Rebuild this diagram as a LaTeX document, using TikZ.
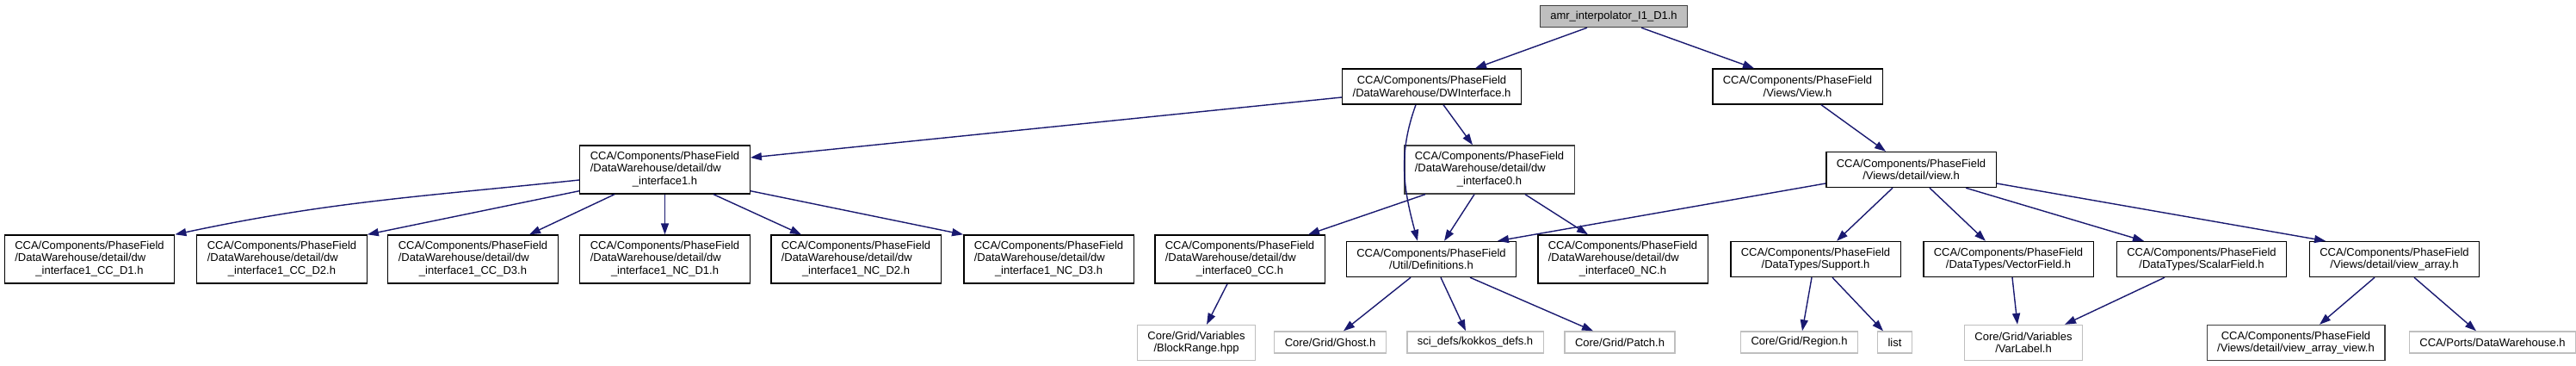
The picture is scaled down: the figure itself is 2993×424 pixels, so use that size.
\documentclass[tikz,border=0pt]{standalone}
\usepackage{fontspec}
\setmainfont{Liberation Sans}
\usetikzlibrary{arrows.meta,positioning}
\definecolor{edgeblue}{HTML}{191970}
\definecolor{extgray}{HTML}{BFBFBF}
\definecolor{topgray}{HTML}{BFBFBF}
\newcommand{\dwfile}[1]{\begin{tabular}{@{}l@{}}CCA/Components/PhaseField\\/DataWarehouse/detail/dw\\\multicolumn{1}{@{}c@{}}{#1}\end{tabular}}

\begin{document}
\begin{tikzpicture}[x=1pt,y=-1pt,font=\fontsize{13}{14.5}\selectfont,
    file/.style={draw=black,fill=white,line width=1.4pt,inner xsep=12pt,inner ysep=0pt,align=center},
    ext/.style={file,draw=extgray},
    lines1/.style={minimum height=25pt},
    lines2/.style={minimum height=41pt},
    lines3/.style={minimum height=56pt},
    dep/.style={-{Triangle[length=13pt,width=9pt]},draw=edgeblue,line width=1.4pt}]
    \useasboundingbox (0,0) rectangle (2993,424);
    % top levels
    \node [file,lines1,fill=topgray,draw=black!75] (amr) at (1875,19) {amr\_interpolator\_I1\_D1.h};
    \node [file,lines2] (dwi) at (1663.5,100.5) {CCA/Components/PhaseField\\/DataWarehouse/DWInterface.h};
    \node [file,lines2] (viewh) at (2088.5,100.5) {CCA/Components/PhaseField\\/Views/View.h};
    \node [file,lines3] (dw1) at (772.5,197) {\dwfile{\_interface1.h}};
    \node [file,lines3,draw=black!75] (dw0) at (1730.5,197) {\dwfile{\_interface0.h}};
    \node [file,lines2] (detview) at (2220.5,197) {CCA/Components/PhaseField\\/Views/detail/view.h};
    % third row
    \node [file,lines3] (ccd1) at (104,301) {\dwfile{\_interface1\_CC\_D1.h}};
    \node [file,lines3] (ccd2) at (327.5,301) {\dwfile{\_interface1\_CC\_D2.h}};
    \node [file,lines3] (ccd3) at (549.5,301) {\dwfile{\_interface1\_CC\_D3.h}};
    \node [file,lines3] (ncd1) at (772.5,301) {\dwfile{\_interface1\_NC\_D1.h}};
    \node [file,lines3] (ncd2) at (994.5,301) {\dwfile{\_interface1\_NC\_D2.h}};
    \node [file,lines3] (ncd3) at (1218.5,301) {\dwfile{\_interface1\_NC\_D3.h}};
    \node [file,lines3] (dw0cc) at (1440.5,301) {\dwfile{\_interface0\_CC.h}};
    \node [file,lines2] (defs) at (1663,301) {CCA/Components/PhaseField\\/Util/Definitions.h};
    \node [file,lines3] (dw0nc) at (1885.5,301) {\dwfile{\_interface0\_NC.h}};
    \node [file,lines2] (support) at (2109.5,301) {CCA/Components/PhaseField\\/DataTypes/Support.h};
    \node [file,lines2] (vector) at (2333.5,301) {CCA/Components/PhaseField\\/DataTypes/VectorField.h};
    \node [file,lines2] (scalar) at (2558,301) {CCA/Components/PhaseField\\/DataTypes/ScalarField.h};
    \node [file,lines2] (varray) at (2782,301) {CCA/Components/PhaseField\\/Views/detail/view\_array.h};
    % leaves
    \node [ext,lines2] (block) at (1390,398) {Core/Grid/Variables\\/BlockRange.hpp};
    \node [ext,lines1] (ghost) at (1545.5,397.5) {Core/Grid/Ghost.h};
    \node [ext,lines1] (kokkos) at (1714,397.5) {sci\_defs/kokkos\_defs.h};
    \node [ext,lines1] (patch) at (1882,397.5) {Core/Grid/Patch.h};
    \node [ext,lines1] (region) at (2090.5,397.5) {Core/Grid/Region.h};
    \node [ext,lines1] (list) at (2201.5,397.5) {list};
    \node [ext,lines2] (varlabel) at (2351,398) {Core/Grid/Variables\\/VarLabel.h};
    \node [file,lines2,draw=black!75] (vaview) at (2667.5,398) {CCA/Components/PhaseField\\/Views/detail/view\_array\_view.h};
    \node [ext,lines1] (ports) at (2896,397.5) {CCA/Ports/DataWarehouse.h};
    % includes
    \draw [dep] ([xshift=-31pt]amr.south) -- ([xshift=50.5pt]dwi.north);
    \draw [dep] ([xshift=32pt]amr.south) -- ([xshift=-50.5pt]viewh.north);
    \draw [dep] ([yshift=-12.5pt]dwi.west) -- ([yshift=14pt]dw1.east);
    \draw [dep] ([xshift=13.5pt]dwi.south) -- ([xshift=-19.5pt]dw0.north);
    \draw [dep] ([xshift=-18.5pt]dwi.south) to[out=-110,in=105] ([xshift=-16pt]defs.north);
    \draw [dep] ([xshift=27.5pt]viewh.south) -- ([xshift=-29.5pt]detview.north);
    \draw [dep] ([yshift=-12pt]dw1.west) to[out=186,in=12] (ccd1.north east);
    \draw [dep] ([yshift=4pt]dw1.south west) -- (ccd2.north east);
    \draw [dep] ([xshift=-58.5pt]dw1.south) -- ([xshift=65.5pt]ccd3.north);
    \draw [dep] (dw1.south) -- (ncd1.north);
    \draw [dep] ([xshift=56.5pt]dw1.south) -- ([xshift=-63.5pt]ncd2.north);
    \draw [dep] ([yshift=4pt]dw1.south east) -- (ncd3.north west);
    \draw [dep] ([xshift=-74.5pt]dw0.south) -- ([xshift=79.5pt]dw0cc.north);
    \draw [dep] ([xshift=-17.5pt]dw0.south) -- ([xshift=15pt]defs.north);
    \draw [dep] ([xshift=41.5pt]dw0.south) -- ([xshift=-40.5pt]dw0nc.north);
    \draw [dep] ([yshift=-16pt]detview.west) -- ([xshift=77pt]defs.north);
    \draw [dep] ([xshift=-21.5pt]detview.south) -- ([xshift=24.5pt]support.north);
    \draw [dep] ([xshift=21.5pt]detview.south) -- ([xshift=-26.5pt]vector.north);
    \draw [dep] ([xshift=63.5pt]detview.south) -- ([xshift=-67pt]scalar.north);
    \draw [dep] ([yshift=-16pt]detview.east) -- ([xshift=-80pt]varray.north);
    \draw [dep] ([xshift=-14.5pt]dw0cc.south) -- ([xshift=12pt]block.north);
    \draw [dep] ([xshift=-24pt]defs.south) -- ([xshift=15.5pt]ghost.north);
    \draw [dep] ([xshift=11pt]defs.south) -- ([xshift=-11pt]kokkos.north);
    \draw [dep] ([xshift=45pt]defs.south) -- ([xshift=-31pt]patch.north);
    \draw [dep] ([xshift=-4.5pt]support.south) -- ([xshift=3.5pt]region.north);
    \draw [dep] ([xshift=19.5pt]support.south) -- ([xshift=-13.5pt]list.north);
    \draw [dep] ([xshift=4.5pt]vector.south) -- ([xshift=-7pt]varlabel.north);
    \draw [dep] ([xshift=-43pt]scalar.south) -- ([xshift=48pt]varlabel.north);
    \draw [dep] ([xshift=-23pt]varray.south) -- ([xshift=27.5pt]vaview.north);
    \draw [dep] ([xshift=23pt]varray.south) -- ([xshift=-19pt]ports.north);
\end{tikzpicture}
\end{document}
